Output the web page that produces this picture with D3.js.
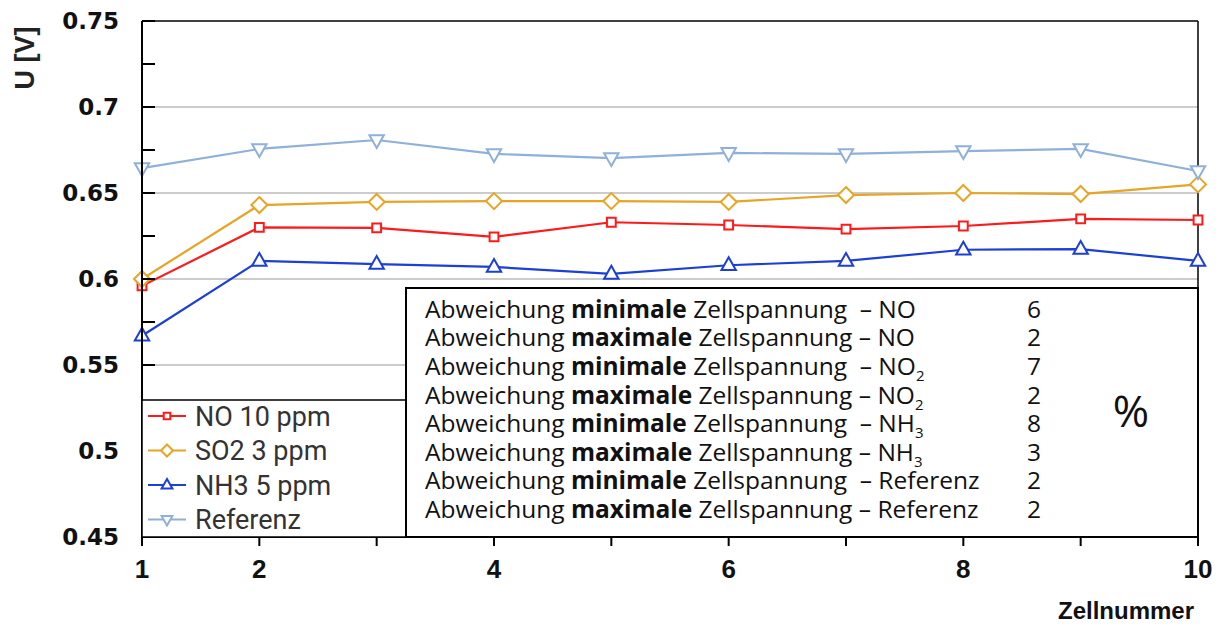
<!DOCTYPE html>
<html>
<head>
<meta charset="utf-8">
<script src="https://cdn.jsdelivr.net/npm/d3@7"></script>
<style>
  body { margin: 0; background: #fff; }
  svg { display: block; }
  text { white-space: pre; }
</style>
</head>
<body>
<svg id="chart" width="1223" height="625"></svg>
<script>
// data
const cells = [1, 2, 3, 4, 5, 6, 7, 8, 9, 10]
const no10 = [0.596, 0.630, 0.6297, 0.6245, 0.633, 0.6314, 0.629, 0.6308, 0.635, 0.6343]
const so2 = [0.600, 0.643, 0.6448, 0.6453, 0.6453, 0.6448, 0.6488, 0.650, 0.6494, 0.655]
const nh3 = [0.567, 0.6105, 0.6087, 0.607, 0.603, 0.608, 0.6105, 0.617, 0.6174, 0.6105]
const referenz = [0.6645, 0.6756, 0.6808, 0.6727, 0.6703, 0.6733, 0.6727, 0.6744, 0.6756, 0.6628]
const seriesNames = ['NO 10 ppm', 'SO2 3 ppm', 'NH3 5 ppm', 'Referenz']
const yTicks = [0.45, 0.5, 0.55, 0.6, 0.65, 0.7, 0.75]
const xTickLabels = [1, 2, 4, 6, 8, 10]
const tableGas = ['NO', 'NO', 'NO|2', 'NO|2', 'NH|3', 'NH|3', 'Referenz', 'Referenz']
const tableKind = ['minimale', 'maximale', 'minimale', 'maximale', 'minimale', 'maximale', 'minimale', 'maximale']
const tableVals = [6, 2, 7, 2, 8, 3, 2, 2]

const series = [
  {name: seriesNames[0], values: no10, color: '#ff1a1a', marker: 'square'},
  {name: seriesNames[1], values: so2, color: '#e8a424', marker: 'diamond'},
  {name: seriesNames[2], values: nh3, color: '#1c3fd6', marker: 'up'},
  {name: seriesNames[3], values: referenz, color: '#8eb0da', marker: 'down'}
]

const svg = d3.select('#chart')
const pLeft = 142, pRight = 1198, pTop = 21, pBottom = 537
const x = d3.scaleLinear().domain([1, 10]).range([pLeft, pRight])
const y = d3.scaleLinear().domain([0.45, 0.75]).range([pBottom, pTop])

const boldFont = '"Liberation Sans", Arial, sans-serif'

// grid
svg.append('g')
  .selectAll('line')
  .data(yTicks.slice(1, -1))
  .join('line')
  .attr('x1', pLeft).attr('x2', pRight)
  .attr('y1', d => y(d)).attr('y2', d => y(d))
  .attr('stroke', '#9a9a9a').attr('stroke-width', 1.2)

// frame top / right
svg.append('line').attr('x1', pLeft).attr('x2', pRight).attr('y1', pTop).attr('y2', pTop)
  .attr('stroke', '#000').attr('stroke-width', 1.5)
svg.append('line').attr('x1', pRight).attr('x2', pRight).attr('y1', pTop).attr('y2', pBottom)
  .attr('stroke', '#000').attr('stroke-width', 1.5)

function markerPath(type, s) {
  if (type === 'square') return `M${-s * 0.55},${-s * 0.55}H${s * 0.55}V${s * 0.55}H${-s * 0.55}Z`
  if (type === 'diamond') return `M0,${-s}L${s},0L0,${s}L${-s},0Z`
  if (type === 'up') return `M0,${-s}L${s * 0.9},${s * 0.6}L${-s * 0.9},${s * 0.6}Z`
  return `M0,${s}L${s * 0.9},${-s * 0.6}L${-s * 0.9},${-s * 0.6}Z`
}

const line = d3.line().x((d, i) => x(cells[i])).y(d => y(d))

series.forEach(s => {
  const g = svg.append('g')
  g.append('path')
    .attr('d', line(s.values))
    .attr('fill', 'none')
    .attr('stroke', s.color)
    .attr('stroke-width', 2.2)
  g.selectAll('path.m')
    .data(s.values)
    .join('path')
    .attr('class', 'm')
    .attr('d', markerPath(s.marker, 8))
    .attr('transform', (d, i) => `translate(${x(cells[i])},${y(d)})`)
    .attr('fill', '#fff')
    .attr('stroke', s.color)
    .attr('stroke-width', 2)
})

// axes
const yAxis = svg.append('g').attr('transform', `translate(${pLeft},0)`)
yAxis.append('line').attr('y1', pTop).attr('y2', pBottom).attr('stroke', '#000').attr('stroke-width', 2)
yAxis.selectAll('line.tk')
  .data(d3.range(0.45, 0.7501, 0.025))
  .join('line')
  .attr('class', 'tk')
  .attr('x1', 0).attr('x2', 13)
  .attr('y1', d => y(d)).attr('y2', d => y(d))
  .attr('stroke', '#000').attr('stroke-width', 2)
yAxis.selectAll('text')
  .data(yTicks)
  .join('text')
  .attr('x', -23)
  .attr('y', d => y(d))
  .attr('dy', '0.36em')
  .attr('text-anchor', 'end')
  .attr('font-family', '"DejaVu Sans", sans-serif')
  .attr('font-weight', 'bold')
  .attr('font-size', 23)
  .attr('fill', '#111')
  .text(d => d)

const xAxis = svg.append('g').attr('transform', `translate(0,${pBottom})`)
xAxis.append('line').attr('x1', pLeft).attr('x2', pRight).attr('stroke', '#000').attr('stroke-width', 2)
xAxis.selectAll('line.tk')
  .data(cells)
  .join('line')
  .attr('class', 'tk')
  .attr('x1', d => x(d)).attr('x2', d => x(d))
  .attr('y1', 0).attr('y2', 9)
  .attr('stroke', '#000').attr('stroke-width', 2)
xAxis.selectAll('text')
  .data(xTickLabels)
  .join('text')
  .attr('x', d => x(d))
  .attr('y', 41)
  .attr('text-anchor', 'middle')
  .attr('font-family', boldFont)
  .attr('font-weight', 'bold')
  .attr('font-size', 26)
  .attr('fill', '#111')
  .text(d => d)

svg.append('text')
  .attr('x', 1194).attr('y', 619)
  .attr('text-anchor', 'end')
  .attr('font-family', boldFont)
  .attr('font-weight', 'bold')
  .attr('font-size', 24)
  .attr('fill', '#111')
  .text('Zellnummer')

svg.append('text')
  .attr('transform', 'translate(34,58) rotate(-90)')
  .attr('text-anchor', 'middle')
  .attr('font-family', boldFont)
  .attr('font-weight', 'bold')
  .attr('font-size', 27)
  .attr('fill', '#222')
  .text('U [V]')

// legend
const legend = svg.append('g')
legend.append('rect')
  .attr('x', pLeft).attr('y', 400).attr('width', 264).attr('height', pBottom - 400)
  .attr('fill', '#fff').attr('stroke', '#000').attr('stroke-width', 1.5)
series.forEach((s, i) => {
  const ly = 416 + i * 34.5
  legend.append('line').attr('x1', 148).attr('x2', 186).attr('y1', ly).attr('y2', ly)
    .attr('stroke', s.color).attr('stroke-width', 2)
  legend.append('path').attr('d', markerPath(s.marker, 6))
    .attr('transform', `translate(167,${ly})`)
    .attr('fill', '#fff').attr('stroke', s.color).attr('stroke-width', 2)
  legend.append('text')
    .attr('x', 195).attr('y', ly).attr('dy', '0.36em')
    .attr('font-family', 'Roboto, sans-serif')
    .attr('font-size', 27)
    .attr('fill', '#333')
    .text(s.name)
})

// deviation table
const table = svg.append('g')
table.append('rect')
  .attr('x', 406).attr('y', 288).attr('width', 792).attr('height', pBottom - 288)
  .attr('fill', '#fff').attr('stroke', '#000').attr('stroke-width', 2)
const tFont = '"Open Sans", sans-serif'
tableKind.forEach((k, i) => {
  const ty = 309 + i * 28.6
  const t = table.append('text')
    .attr('x', 425).attr('y', ty).attr('dy', '0.36em')
    .attr('font-family', tFont).attr('font-size', 24.5).attr('fill', '#111')
  t.append('tspan').text('Abweichung ')
  t.append('tspan').attr('font-weight', 'bold').text(k)
  t.append('tspan').text(k === 'minimale' ? ' Zellspannung  – ' : ' Zellspannung – ')
  const parts = tableGas[i].split('|')
  t.append('tspan').text(parts[0])
  if (parts[1]) t.append('tspan').attr('font-size', 15).attr('dy', 6).text(parts[1])
  table.append('text')
    .attr('x', 1027).attr('y', ty).attr('dy', '0.36em')
    .attr('font-family', tFont).attr('font-size', 24.5).attr('fill', '#111')
    .text(tableVals[i])
})
table.append('text')
  .attr('x', 1131).attr('y', 411).attr('dy', '0.36em')
  .attr('text-anchor', 'middle')
  .attr('font-family', tFont).attr('font-size', 44).attr('fill', '#111')
  .text('%')
</script>
</body>
</html>
